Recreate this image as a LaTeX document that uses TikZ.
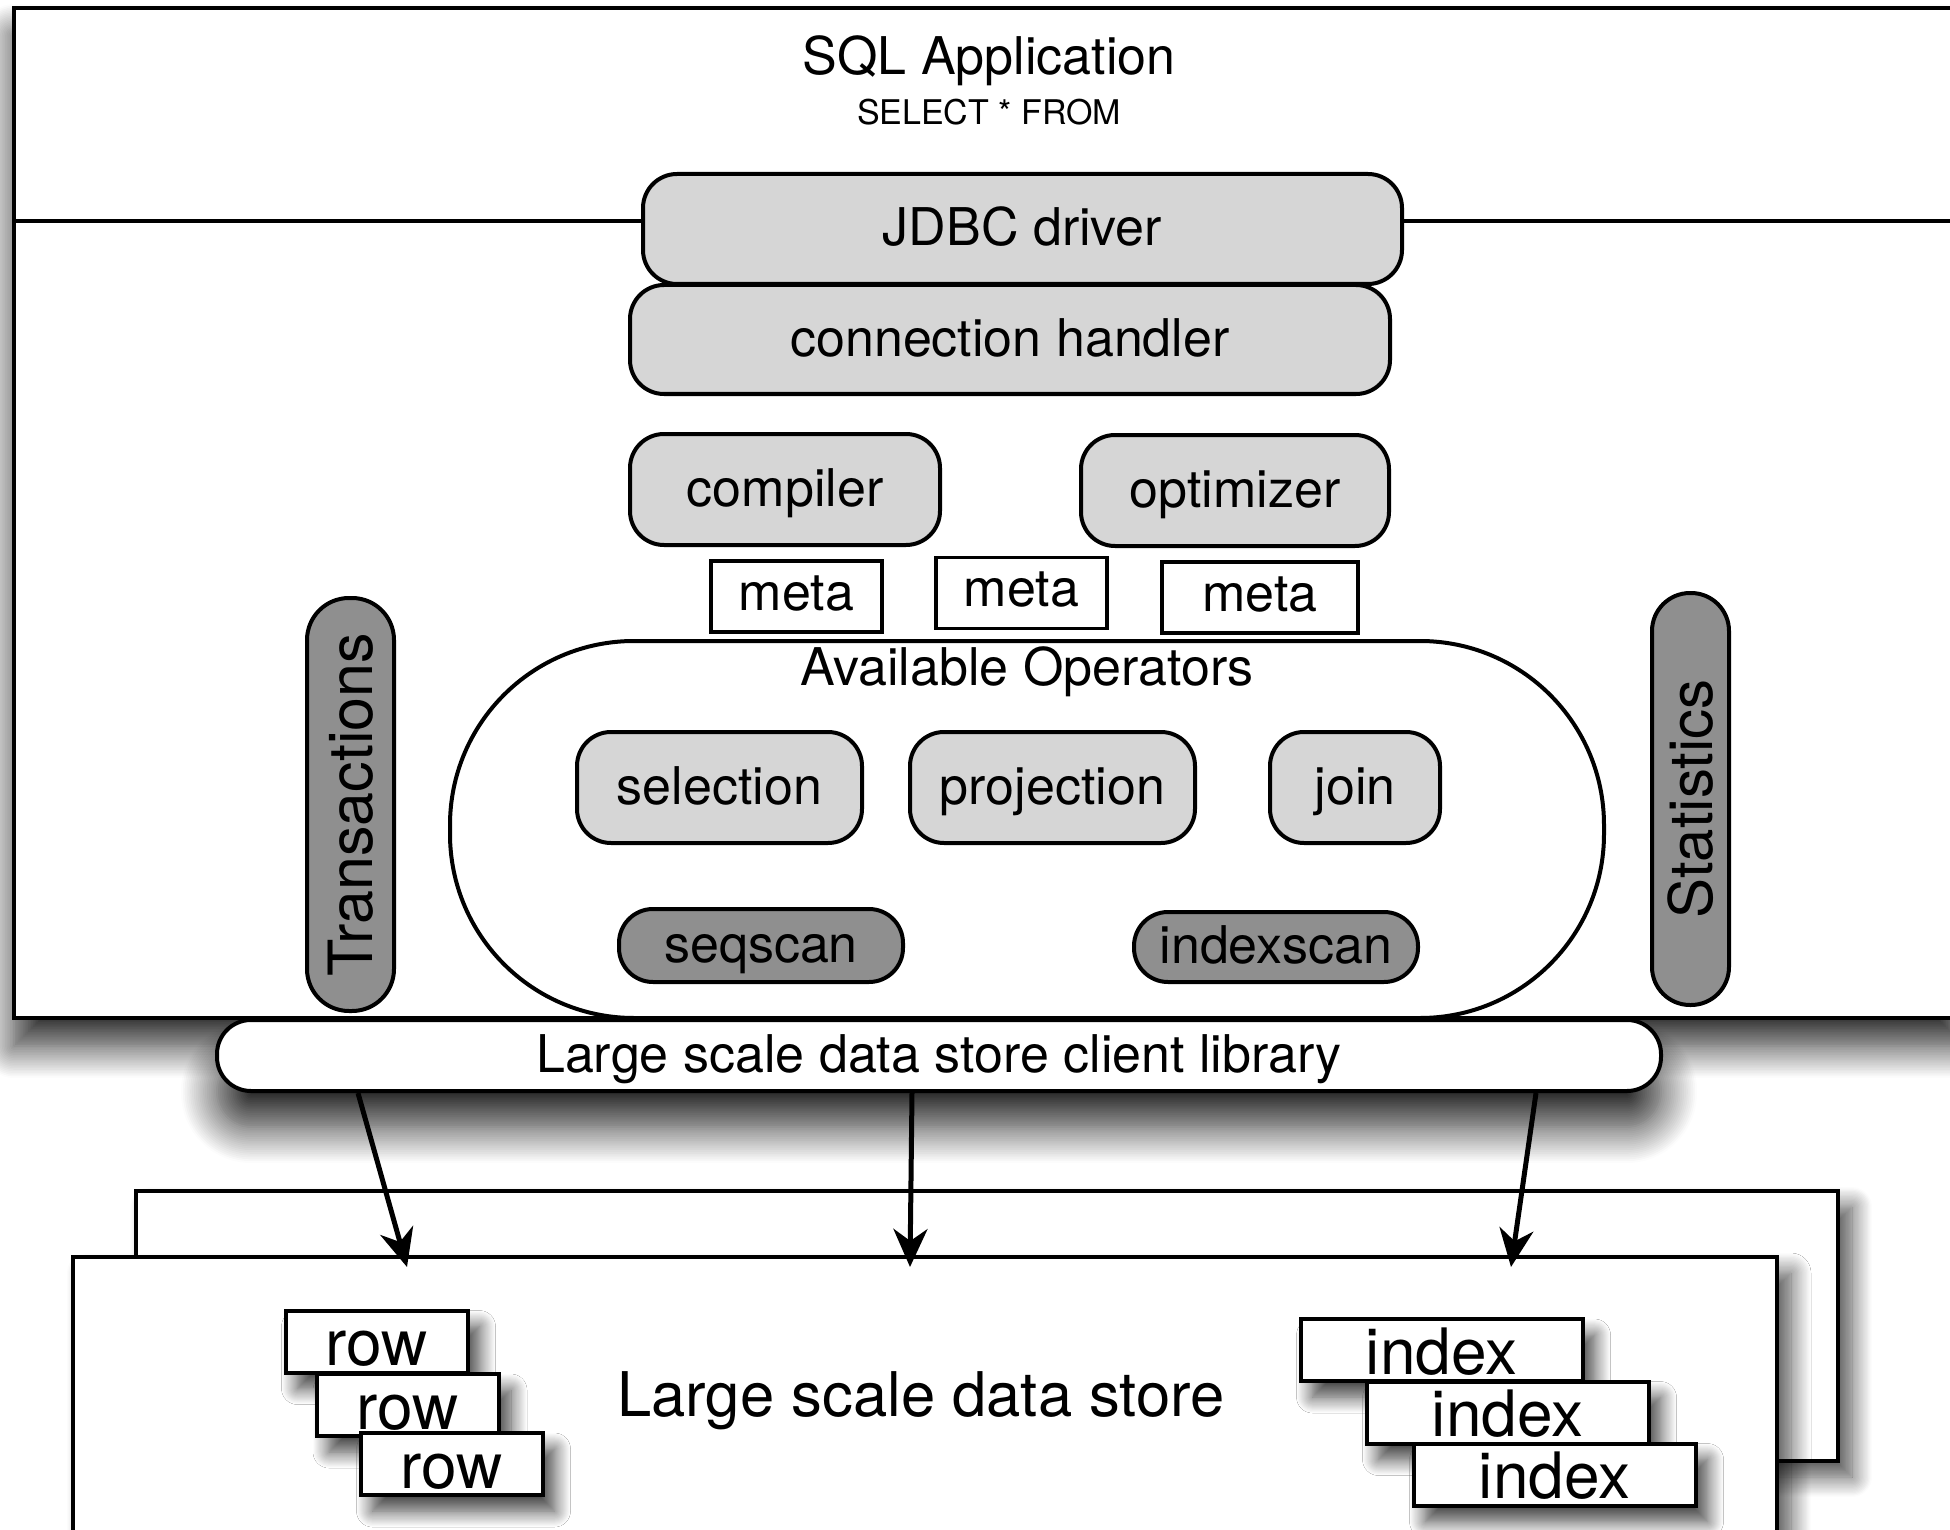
\documentclass[tikz,border=0pt]{standalone}
\usepackage{fontspec}
\setmainfont{TeX Gyre Heros}
\usetikzlibrary{arrows.meta,positioning,shadows.blur}
\definecolor{partgray}{gray}{0.84}
\definecolor{scangray}{gray}{0.56}
\begin{document}
\begin{tikzpicture}[x=0.5pt,y=-0.5pt,
    every node/.style={inner sep=0pt},
    txt/.style={font=\fontsize{26}{30}\selectfont,text height=18.7pt,text depth=2pt},
    part/.style={txt,draw,line width=2pt,fill=partgray,rounded corners=17pt},
    scan/.style={txt,draw,line width=2pt,fill=scangray,rounded corners=17pt},
    metabox/.style={txt,text depth=5pt,draw,line width=1.6pt,fill=white,minimum height=35.5pt},
    item/.style={draw,line width=2pt,fill=white,font=\fontsize{32}{36}\selectfont,
      text height=24pt,text depth=0pt,minimum height=31pt,
      blur shadow={shadow xshift=6pt,shadow yshift=-8pt,shadow blur radius=8pt,
        shadow blur steps=16,shadow opacity=75}},
    store/.style={draw,line width=2pt,fill=white,
      blur shadow={shadow xshift=7pt,shadow yshift=-8pt,shadow blur radius=10pt,
        shadow blur steps=16,shadow opacity=70}},
    flow/.style={line width=2.5pt,-{Stealth[length=19pt,width=17pt,inset=6pt]}}]
  \useasboundingbox (0,0) rectangle (1950,1530);
  % application frame
  \node[draw,line width=2pt,fill=white,minimum width=975.5pt,minimum height=505pt,
    blur shadow={shadow xshift=0pt,shadow yshift=-14pt,shadow blur radius=16pt,
      shadow blur steps=20,shadow opacity=85}]
    (app) at (989.5,513) {};
  \node[txt] (title) at (989,58) {SQL Application};
  \node[font=\fontsize{17}{20}\selectfont,text height=12.3pt,text depth=0pt] (query) at (989,112) {SELECT * FROM};
  \coordinate (split) at (0,221);
  \draw[line width=1.75pt] (app.west |- split) -- (app.east |- split);
  % front end
  \node[part,minimum width=379.5pt,minimum height=55pt] (jdbc) at (1022.5,229) {JDBC driver};
  \node[part,minimum width=380pt,minimum height=54.5pt] (conn) at (1010,339.5) {connection handler};
  \node[part,minimum width=155pt,minimum height=55.5pt] (compiler) at (785,489.5) {compiler};
  \node[part,minimum width=154pt,minimum height=55.5pt] (optimizer) at (1235,490.5) {optimizer};
  \node[metabox,minimum width=85.5pt] (meta1) at (796.5,596.5) {meta};
  \node[metabox,minimum width=85.5pt] (meta2) at (1021.5,593) {meta};
  \node[metabox,minimum width=98pt] (meta3) at (1260,597.5) {meta};
  % operators
  \node[draw,line width=2pt,fill=white,rounded corners=92pt,minimum width=577pt,minimum height=188.5pt]
    (ops) at (1027,829.5) {};
  \node[txt,text depth=0pt,below=4.5pt of ops.north] (opslabel) {Available Operators};
  \node[part,minimum width=142.5pt,minimum height=55.5pt] (selection) at (719.5,787.5) {selection};
  \node[part,minimum width=142.5pt,minimum height=55.5pt] (projection) at (1052.5,787.5) {projection};
  \node[part,minimum width=85pt,minimum height=55.5pt] (join) at (1355,787.5) {join};
  \node[scan,minimum width=142pt,minimum height=36.5pt] (seqscan) at (761,945.5) {seqscan};
  \node[scan,minimum width=142pt,minimum height=35pt] (indexscan) at (1276,947) {indexscan};
  \node[scan,rotate=90,rounded corners=21pt,font=\fontsize{30.5}{34}\selectfont,text height=22pt,text depth=0pt,
    minimum width=206.5pt,minimum height=43.5pt] (trans) at (350.5,804.5) {Transactions};
  \node[scan,rotate=90,rounded corners=19pt,font=\fontsize{30}{34}\selectfont,text height=21.5pt,text depth=0pt,
    minimum width=206pt,minimum height=38.5pt] (stats) at (1690.5,799) {Statistics};
  % client library
  \node[txt,draw,line width=2pt,fill=white,rounded corners=17pt,minimum width=722pt,minimum height=35.5pt,
    blur shadow={shadow xshift=0pt,shadow yshift=-18pt,shadow blur radius=18pt,
      shadow blur steps=20,shadow opacity=85}]
    (client) at (939,1055.5) {Large scale data store client library};
  % data store
  \node[store,minimum width=851pt,minimum height=135pt] (back) at (987,1326) {};
  \node[store,minimum width=852pt,minimum height=151.5pt] (front) at (925,1408.5) {};
  \node[font=\fontsize{30.8}{34}\selectfont,text height=22.2pt,text depth=0pt] (storelabel) at (921,1394) {Large scale data store};
  \node[item,minimum width=91pt] (row1) at (376.5,1341.5) {row};
  \node[item,minimum width=91pt] (row2) at (408,1405) {row};
  \node[item,minimum width=91pt] (row3) at (451.5,1464) {row};
  \node[item,minimum width=141pt] (index1) at (1441.5,1350) {index};
  \node[item,minimum width=141pt] (index2) at (1507.5,1412.5) {index};
  \node[item,minimum width=141pt] (index3) at (1554.5,1474.5) {index};
  % calls into the store
  \coordinate (t1) at (407,1267);
  \coordinate (t2) at (910,1267);
  \coordinate (t3) at (1511,1267);
  \draw[flow] ([xshift=-290.5pt]client.south) -- (t1);
  \draw[flow] ([xshift=-13.5pt]client.south) -- (t2);
  \draw[flow] ([xshift=298.5pt]client.south) -- (t3);
\end{tikzpicture}
\end{document}
